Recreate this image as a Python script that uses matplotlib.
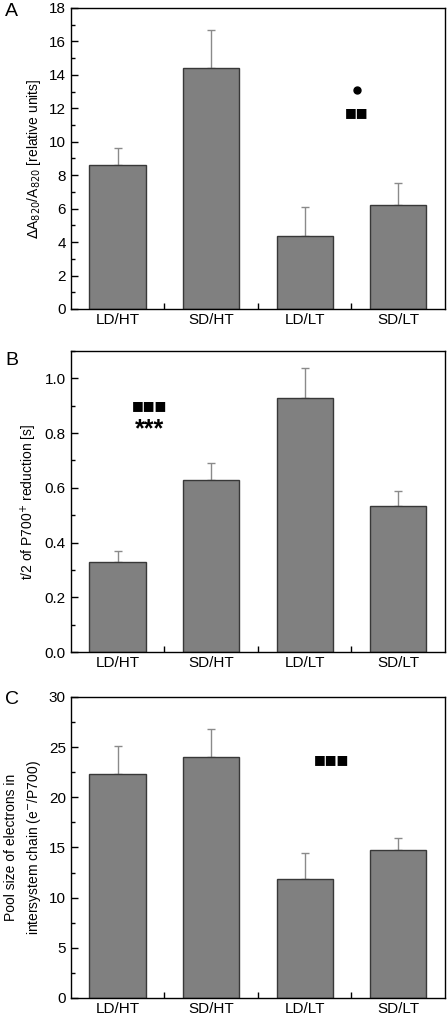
import matplotlib
matplotlib.use("Agg")
import matplotlib.pyplot as plt
from matplotlib.ticker import MultipleLocator, FixedLocator

plt.rcParams['font.family'] = ['Liberation Sans', 'DejaVu Sans']

groups = ["LD/HT", "SD/HT", "LD/LT", "SD/LT"]

# panel A: dA820/A820
a_vals = [8.6, 14.4, 4.37, 6.23]
a_err = [1.05, 2.3, 1.73, 1.31]

# panel B: t/2 of P700+ reduction
b_vals = [0.330, 0.630, 0.930, 0.533]
b_err = [0.041, 0.059, 0.107, 0.056]

# panel C: pool size of electrons
c_vals = [22.35, 24.05, 11.88, 14.77]
c_err = [2.72, 2.72, 2.6, 1.22]

panels = [
    ("A", a_vals, a_err, (0, 18), 2, 1, 0.6956,
     r"$\Delta$A$_{820}$/A$_{820}$ [relative units]"),
    ("B", b_vals, b_err, (0, 1.1), 0.2, 0.1, 0.3576,
     r"t/2 of P700$^{+}$ reduction [s]"),
    ("C", c_vals, c_err, (0, 30), 5, 2.5, 0.01675,
     "Pool size of electrons in\nintersystem chain (e$^{-}$/P700)"),
]
label_y = {"A": 0.997, "B": 0.653, "C": 0.319}

fig = plt.figure(figsize=(4.48, 10.15), dpi=100)
axes = []
for label, vals, err, ylim, major, minor, bottom, ylabel in panels:
    ax = fig.add_axes([0.158, bottom, 0.835, 0.2966])
    x = list(range(1, len(groups) + 1))
    ax.bar(x, vals, width=0.6, color="#808080", edgecolor="#383838", linewidth=1.0, zorder=2)
    ax.errorbar(x, vals, yerr=[[0] * len(vals), err], fmt="none", ecolor="#8a8a8a",
                elinewidth=1.0, capsize=3, capthick=1.0, zorder=1)
    ax.set_xlim(0.5, 4.5)
    ax.set_ylim(*ylim)
    ax.set_xticks(x)
    ax.set_xticklabels(groups)
    ax.xaxis.set_minor_locator(FixedLocator([1.5, 2.5, 3.5]))
    ax.yaxis.set_major_locator(MultipleLocator(major))
    ax.yaxis.set_minor_locator(MultipleLocator(minor))
    ax.tick_params(axis="x", which="major", length=0, labelsize=11, pad=3)
    ax.tick_params(axis="x", which="minor", direction="in", length=4, width=1)
    ax.tick_params(axis="y", which="major", direction="in", length=5, width=1, labelsize=11)
    ax.tick_params(axis="y", which="minor", direction="in", length=3, width=1)
    if label == "B":
        ax.yaxis.set_major_formatter(matplotlib.ticker.FormatStrFormatter("%.1f"))
    for sp in ax.spines.values():
        sp.set_linewidth(1.0)
    ax.set_ylabel(ylabel, fontsize=10, labelpad=4, linespacing=1.6)
    fig.text(0.012, label_y[label], label, fontsize=14, va="top", ha="left")
    axes.append(ax)

# significance marks
axA, axB, axC = axes
axA.plot([3.56], [13.1], "o", color="black", markersize=5)
axA.text(3.56, 11.76, "■■", ha="center", va="center", fontsize=9, family=['DejaVu Sans'])
axB.text(1.34, 0.90, "■■■", ha="center", va="center", fontsize=9, family=['DejaVu Sans'])
axB.text(1.34, 0.815, "***", ha="center", va="center", fontsize=18, fontweight="bold")
axC.text(3.29, 23.8, "■■■", ha="center", va="center", fontsize=9, family=['DejaVu Sans'])

fig.savefig("out.png", dpi=100)
